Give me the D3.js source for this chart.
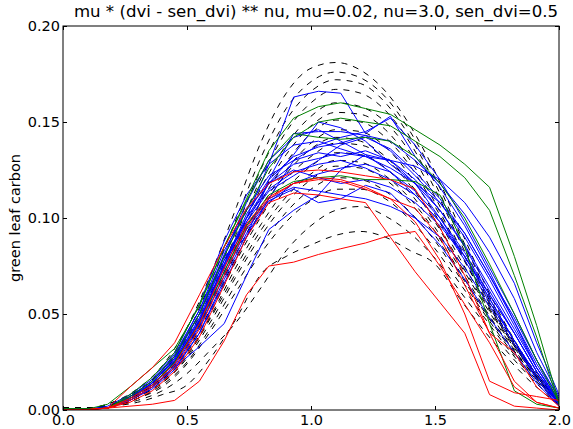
<!DOCTYPE html>
<html>
<head>
<meta charset="utf-8">
<script src="https://cdn.jsdelivr.net/npm/d3@7"></script>
<style>
  html, body { margin: 0; padding: 0; background: #ffffff; }
  svg { display: block; font-family: "DejaVu Sans", sans-serif; }
</style>
</head>
<body>
<svg id="chart" width="573" height="429"></svg>
<script>
// ---------- data ----------
const titleText = "mu * (dvi - sen_dvi) ** nu, mu=0.02, nu=3.0, sen_dvi=0.5";
const yLabel = "green leaf carbon";
const xTicks = [0, 0.5, 1.0, 1.5, 2.0];
const yTicks = [0, 0.05, 0.10, 0.15, 0.20];

// model runs (dashed), sampled on modelX
const modelX = [0, 0.1, 0.2, 0.3, 0.4, 0.5, 0.6, 0.7, 0.8, 0.9, 1.0, 1.1, 1.2, 1.3, 1.4, 1.5, 1.6, 1.7, 1.8, 1.9, 2.0];
const modelRuns = [
  [0.001,0.001,0.004,0.011,0.023,0.043,0.072,0.106,0.140,0.165,0.178,0.181,0.177,0.166,0.148,0.124,0.095,0.066,0.041,0.020,0.004],
  [0.001,0.001,0.004,0.010,0.021,0.040,0.068,0.100,0.132,0.157,0.171,0.176,0.173,0.163,0.145,0.121,0.092,0.064,0.040,0.020,0.005],
  [0.001,0.001,0.003,0.010,0.020,0.038,0.064,0.095,0.126,0.151,0.166,0.172,0.170,0.160,0.142,0.118,0.090,0.062,0.039,0.020,0.004],
  [0.001,0.001,0.003,0.009,0.019,0.037,0.062,0.092,0.121,0.145,0.160,0.167,0.165,0.156,0.139,0.115,0.088,0.061,0.038,0.019,0.004],
  [0.001,0.001,0.003,0.009,0.018,0.035,0.060,0.088,0.116,0.138,0.153,0.160,0.158,0.150,0.134,0.111,0.085,0.060,0.038,0.020,0.005],
  [0.001,0.001,0.003,0.009,0.018,0.034,0.058,0.086,0.112,0.133,0.148,0.155,0.154,0.146,0.130,0.108,0.083,0.058,0.037,0.019,0.004],
  [0.001,0.001,0.003,0.008,0.017,0.033,0.057,0.084,0.109,0.129,0.144,0.151,0.150,0.142,0.127,0.106,0.082,0.059,0.038,0.021,0.006],
  [0.001,0.001,0.003,0.008,0.017,0.032,0.056,0.082,0.106,0.125,0.139,0.146,0.145,0.137,0.122,0.102,0.079,0.057,0.037,0.020,0.005],
  [0.001,0.001,0.003,0.008,0.016,0.031,0.054,0.080,0.104,0.123,0.136,0.142,0.140,0.132,0.118,0.099,0.077,0.056,0.036,0.019,0.004],
  [0.001,0.001,0.003,0.008,0.016,0.030,0.052,0.078,0.101,0.120,0.132,0.139,0.138,0.131,0.117,0.098,0.076,0.055,0.035,0.018,0.004],
  [0.001,0.001,0.002,0.007,0.015,0.029,0.050,0.075,0.097,0.115,0.127,0.134,0.133,0.126,0.113,0.095,0.074,0.053,0.034,0.018,0.004],
  [0.001,0.001,0.002,0.007,0.014,0.028,0.049,0.072,0.094,0.111,0.123,0.130,0.129,0.122,0.110,0.093,0.072,0.052,0.034,0.018,0.005],
  [0.001,0.001,0.002,0.007,0.014,0.027,0.047,0.070,0.091,0.108,0.120,0.127,0.126,0.120,0.108,0.091,0.071,0.051,0.033,0.017,0.004],
  [0.001,0.001,0.002,0.006,0.013,0.025,0.044,0.066,0.086,0.103,0.115,0.121,0.120,0.114,0.103,0.088,0.069,0.050,0.032,0.017,0.004],
  [0.001,0.001,0.002,0.006,0.012,0.024,0.042,0.062,0.082,0.098,0.109,0.115,0.115,0.110,0.099,0.084,0.066,0.048,0.031,0.016,0.004],
  [0.001,0.001,0.002,0.005,0.010,0.019,0.032,0.046,0.064,0.083,0.096,0.104,0.106,0.101,0.092,0.079,0.062,0.045,0.029,0.015,0.003],
  [0.001,0.001,0.002,0.004,0.008,0.013,0.028,0.048,0.071,0.080,0.086,0.091,0.093,0.090,0.083,0.076,0.058,0.041,0.026,0.013,0.003]
];

// observations, sampled on obsX
const obsX = [0, 0.1, 0.18, 0.27, 0.36, 0.45, 0.55, 0.65, 0.74, 0.83, 0.93, 1.03, 1.12, 1.22, 1.32, 1.42, 1.52, 1.62, 1.72, 1.82, 1.91, 2.0];
const blueObs = [
  [0.0005,0.0005,0.001,0.006,0.013,0.025,0.046,0.076,0.100,0.128,0.163,0.166,0.165,0.144,0.153,0.132,0.116,0.096,0.072,0.046,0.022,0.004],
  [0.0005,0.0005,0.001,0.005,0.012,0.022,0.040,0.066,0.090,0.110,0.130,0.138,0.142,0.145,0.152,0.138,0.120,0.098,0.074,0.050,0.026,0.006],
  [0.0005,0.0005,0.001,0.006,0.014,0.027,0.050,0.078,0.098,0.118,0.133,0.150,0.147,0.140,0.128,0.118,0.104,0.085,0.062,0.040,0.020,0.004],
  [0.0005,0.0005,0.001,0.007,0.015,0.028,0.052,0.080,0.090,0.120,0.144,0.145,0.145,0.143,0.135,0.122,0.108,0.090,0.068,0.044,0.022,0.004],
  [0.0005,0.0005,0.001,0.007,0.015,0.028,0.050,0.080,0.105,0.122,0.130,0.134,0.132,0.135,0.130,0.120,0.104,0.086,0.064,0.042,0.022,0.005],
  [0.0005,0.0005,0.001,0.006,0.014,0.026,0.048,0.078,0.100,0.115,0.124,0.128,0.130,0.126,0.120,0.112,0.098,0.080,0.058,0.036,0.016,0.003],
  [0.0005,0.0005,0.002,0.008,0.016,0.030,0.055,0.088,0.112,0.128,0.138,0.140,0.136,0.132,0.126,0.118,0.108,0.092,0.070,0.048,0.026,0.006],
  [0.0005,0.0005,0.001,0.005,0.011,0.021,0.040,0.068,0.092,0.108,0.118,0.123,0.126,0.128,0.124,0.114,0.100,0.082,0.060,0.040,0.020,0.004],
  [0.0005,0.0005,0.001,0.006,0.013,0.025,0.046,0.074,0.098,0.114,0.122,0.130,0.138,0.142,0.136,0.124,0.110,0.092,0.070,0.046,0.024,0.005],
  [0.0005,0.0005,0.001,0.007,0.015,0.029,0.052,0.083,0.104,0.118,0.125,0.121,0.118,0.120,0.116,0.108,0.096,0.080,0.060,0.040,0.020,0.003],
  [0.0005,0.0005,0.001,0.006,0.013,0.024,0.044,0.072,0.096,0.110,0.116,0.114,0.112,0.110,0.106,0.100,0.090,0.074,0.054,0.034,0.016,0.002],
  [0.0005,0.0005,0.001,0.007,0.014,0.027,0.050,0.081,0.108,0.130,0.142,0.146,0.140,0.133,0.124,0.112,0.098,0.078,0.056,0.036,0.018,0.003],
  [0.0005,0.0005,0.001,0.006,0.014,0.026,0.047,0.076,0.102,0.120,0.132,0.137,0.139,0.143,0.140,0.130,0.118,0.102,0.082,0.058,0.030,0.007],
  [0.0005,0.0005,0.001,0.005,0.012,0.023,0.043,0.070,0.094,0.109,0.115,0.108,0.110,0.117,0.113,0.100,0.086,0.068,0.048,0.030,0.014,0.002],
  [0.0005,0.0005,0.001,0.006,0.013,0.025,0.046,0.075,0.100,0.118,0.128,0.131,0.134,0.132,0.130,0.127,0.120,0.108,0.090,0.066,0.035,0.008],
  [0.0005,0.0005,0.001,0.005,0.012,0.022,0.033,0.045,0.070,0.094,0.104,0.112,0.125,0.133,0.130,0.118,0.100,0.080,0.058,0.036,0.018,0.003]
];
const greenObs = [
  [0.0005,0.0005,0.001,0.008,0.017,0.030,0.055,0.085,0.110,0.135,0.152,0.158,0.160,0.157,0.154,0.146,0.138,0.128,0.116,0.080,0.044,0.004],
  [0.0005,0.0005,0.001,0.007,0.015,0.028,0.050,0.080,0.104,0.126,0.142,0.150,0.152,0.150,0.148,0.140,0.132,0.121,0.104,0.070,0.038,0.003],
  [0.0005,0.0005,0.003,0.012,0.022,0.032,0.054,0.085,0.109,0.130,0.144,0.142,0.141,0.142,0.140,0.132,0.118,0.100,0.076,0.050,0.026,0.004],
  [0.0005,0.0005,0.001,0.006,0.013,0.025,0.045,0.072,0.096,0.112,0.119,0.121,0.122,0.120,0.120,0.119,0.112,0.085,0.045,0.010,0.003,0.001]
];
const redObs = [
  [0.0002,0.0002,0.001,0.002,0.003,0.005,0.015,0.036,0.060,0.075,0.077,0.081,0.084,0.087,0.091,0.093,0.075,0.055,0.035,0.012,0.004,0.001],
  [0.0002,0.0002,0.001,0.004,0.010,0.020,0.038,0.065,0.090,0.108,0.113,0.112,0.110,0.108,0.090,0.072,0.056,0.040,0.008,0.002,0.001,0.000],
  [0.0002,0.0002,0.001,0.012,0.022,0.035,0.060,0.085,0.105,0.118,0.124,0.125,0.124,0.122,0.120,0.115,0.095,0.070,0.040,0.015,0.004,0.001],
  [0.0002,0.0002,0.001,0.005,0.012,0.022,0.042,0.070,0.095,0.110,0.118,0.121,0.120,0.116,0.110,0.098,0.078,0.050,0.015,0.009,0.007,0.005],
  [0.0002,0.0002,0.001,0.006,0.013,0.024,0.045,0.074,0.097,0.111,0.118,0.120,0.119,0.115,0.110,0.105,0.090,0.065,0.040,0.030,0.012,0.002]
];

// ---------- chart ----------
const svg = d3.select("#chart");
const W = 573, H = 429;
const margin = { left: 63, right: 14, top: 26, bottom: 19 };
const x = d3.scaleLinear().domain([0, 2]).range([margin.left, W - margin.right]);
const y = d3.scaleLinear().domain([0, 0.2]).range([H - margin.bottom, margin.top]);

svg.append("rect").attr("width", W).attr("height", H).attr("fill", "#ffffff");

svg.append("clipPath").attr("id", "clip")
  .append("rect")
  .attr("x", margin.left).attr("y", margin.top)
  .attr("width", x(2) - x(0)).attr("height", y(0) - y(0.2));

const plot = svg.append("g").attr("clip-path", "url(#clip)");

const modelLine = d3.line()
  .x((d, i) => x(modelX[i]))
  .y(d => y(d))
  .curve(d3.curveMonotoneX);
const obsLine = d3.line()
  .x((d, i) => x(obsX[i]))
  .y(d => y(d));

plot.selectAll("path.model").data(modelRuns).join("path")
  .attr("class", "model")
  .attr("d", modelLine)
  .attr("fill", "none")
  .attr("stroke", "#000000")
  .attr("stroke-width", 1)
  .attr("stroke-dasharray", "6,6");

const groups = [
  { data: blueObs, color: "#0000ff" },
  { data: greenObs, color: "#008000" },
  { data: redObs, color: "#ff0000" }
];
groups.forEach((g, gi) => {
  plot.selectAll("path.obs" + gi).data(g.data).join("path")
    .attr("class", "obs" + gi)
    .attr("d", obsLine)
    .attr("fill", "none")
    .attr("stroke", g.color)
    .attr("stroke-width", 1);
});

// axes with inward ticks
const fmtX = d3.format(".1f");
const fmtY = d3.format(".2f");
const tickFont = 14.5;

const xAxis = svg.append("g")
  .attr("transform", `translate(0,${y(0)})`)
  .call(d3.axisBottom(x).tickValues(xTicks).tickFormat(fmtX).tickSizeInner(-4).tickSizeOuter(0).tickPadding(5));
const xAxisTop = svg.append("g")
  .attr("transform", `translate(0,${y(0.2)})`)
  .call(d3.axisTop(x).tickValues(xTicks).tickFormat("").tickSizeInner(-4).tickSizeOuter(0));
const yAxis = svg.append("g")
  .attr("transform", `translate(${x(0)},0)`)
  .call(d3.axisLeft(y).tickValues(yTicks).tickFormat(fmtY).tickSizeInner(-4).tickSizeOuter(0).tickPadding(3));
const yAxisRight = svg.append("g")
  .attr("transform", `translate(${x(2)},0)`)
  .call(d3.axisRight(y).tickValues(yTicks).tickFormat("").tickSizeInner(-4).tickSizeOuter(0));

[xAxis, xAxisTop, yAxis, yAxisRight].forEach(a => {
  a.select(".domain").remove();
  a.selectAll("text").attr("font-family", "DejaVu Sans, sans-serif").attr("font-size", tickFont).attr("fill", "#000");
  a.selectAll("line").attr("stroke", "#000");
});

// frame
svg.append("rect")
  .attr("x", x(0)).attr("y", y(0.2))
  .attr("width", x(2) - x(0)).attr("height", y(0) - y(0.2))
  .attr("fill", "none").attr("stroke", "#000").attr("stroke-width", 1);

// title
svg.append("text")
  .attr("x", (x(0) + x(2)) / 2 + 5)
  .attr("y", 17)
  .attr("text-anchor", "middle")
  .attr("font-size", 16.6)
  .attr("fill", "#000")
  .text(titleText);

// y label
svg.append("text")
  .attr("transform", `translate(20,${(y(0) + y(0.2)) / 2}) rotate(-90)`)
  .attr("text-anchor", "middle")
  .attr("font-size", 14.5)
  .attr("fill", "#000")
  .text(yLabel);
</script>
</body>
</html>
